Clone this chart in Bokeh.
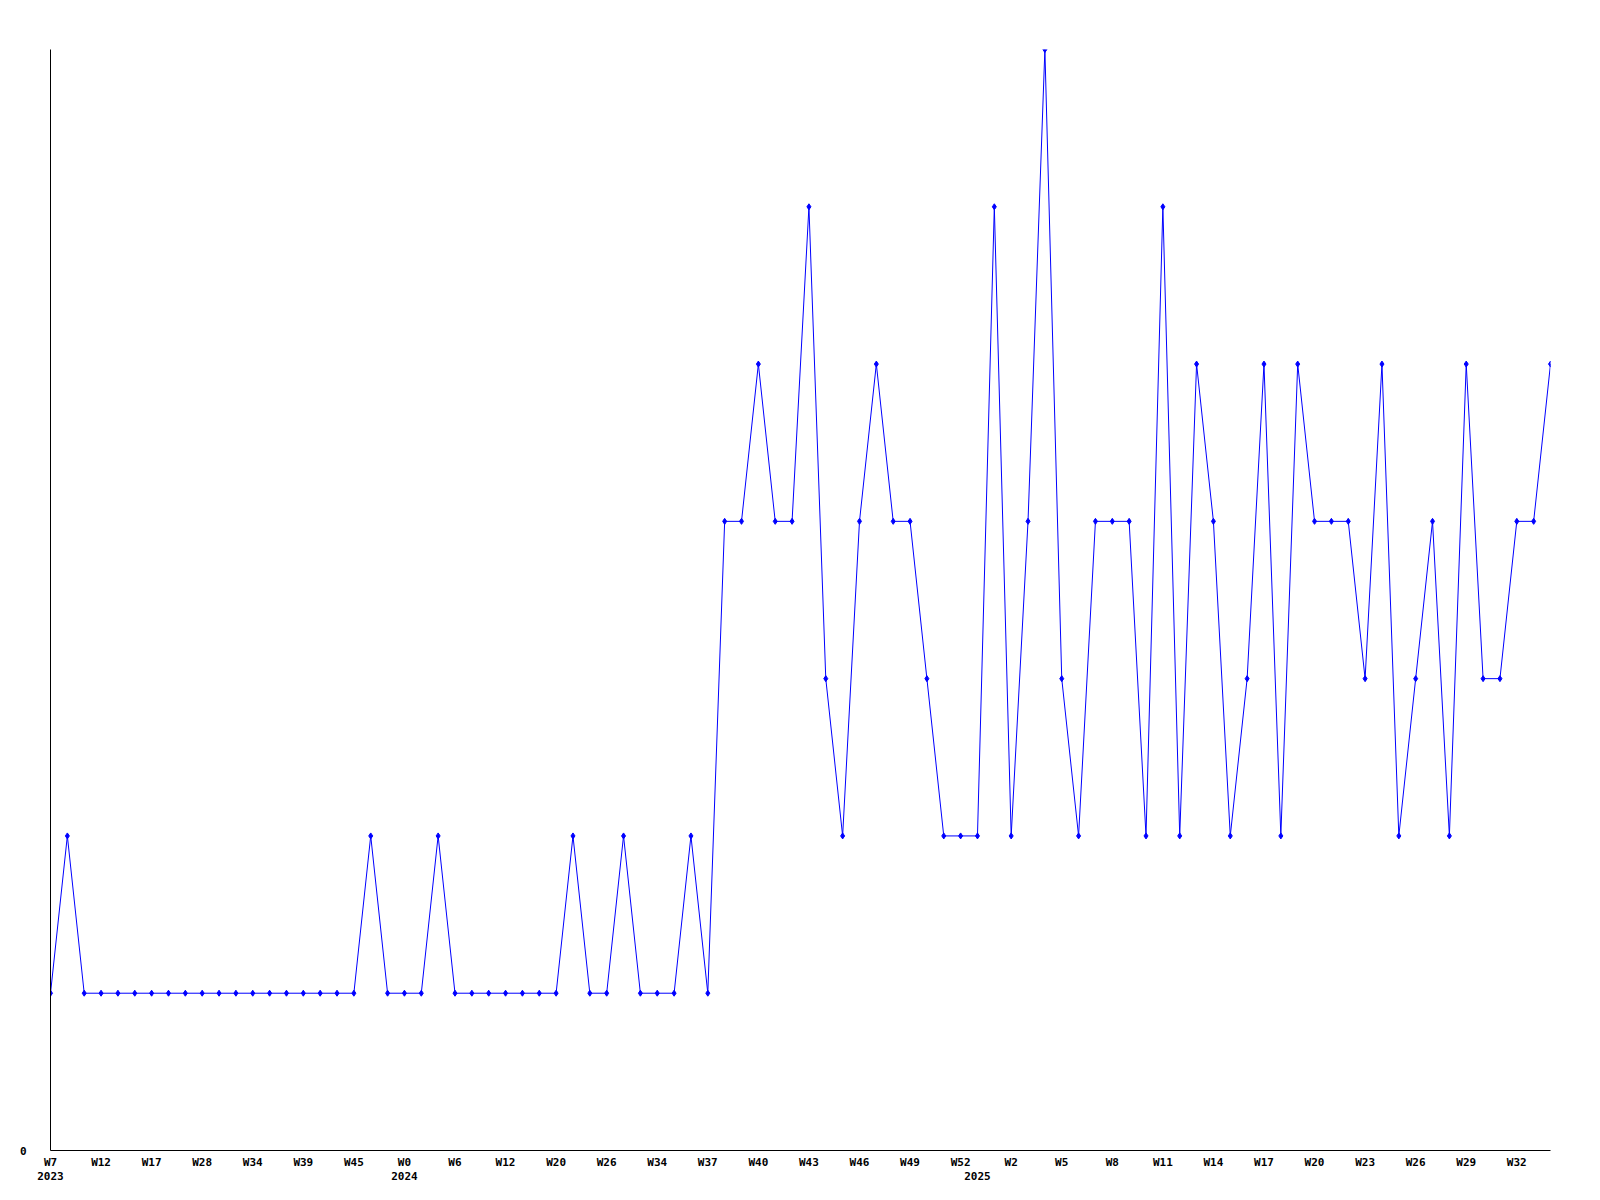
from bokeh.plotting import figure
from bokeh.models import Range1d, FixedTicker, LinearAxis, ColumnDataSource
from bokeh.embed import file_html
from bokeh.resources import INLINE

# ---- data ----
weeks_2023 = ["W7", "W9", "W10", "W12", "W14", "W15", "W17", "W21", "W25", "W28", "W30",
              "W32", "W34", "W36", "W37", "W39", "W41", "W43", "W45", "W48", "W50"]
weeks_2024 = ["W0", "W2", "W4", "W6", "W8", "W10", "W12", "W15", "W18", "W20", "W22", "W24",
              "W26", "W29", "W31", "W34", "W35", "W36", "W37", "W38", "W39", "W40", "W41",
              "W42", "W43", "W44", "W45", "W46", "W47", "W48", "W49", "W50", "W51", "W52"]
weeks_2025 = ["W%d" % w for w in [0, 1, 2, 3, 4, 5, 6, 7, 8, 9, 10, 11, 12, 13, 14, 15, 16,
                                  17, 18, 19, 20, 21, 22, 23, 24, 25, 26, 27, 28, 29, 30,
                                  31, 32, 33, 34]]

counts_2023 = [1, 2, 1, 1, 1, 1, 1, 1, 1, 1, 1, 1, 1, 1, 1, 1, 1, 1, 1, 2, 1]
counts_2024 = [1, 1, 2, 1, 1, 1, 1, 1, 1, 1, 2, 1, 1, 2, 1, 1, 1, 2, 1, 4, 4, 5, 4, 4,
               6, 3, 2, 4, 5, 4, 4, 3, 2, 2]
counts_2025 = [2, 6, 2, 4, 7, 3, 2, 4, 4, 4, 2, 6, 2, 5, 4, 2, 3, 5, 2, 5, 4, 4, 4, 3,
               5, 2, 3, 4, 2, 5, 3, 3, 4, 4, 5]

weeks = weeks_2023 + weeks_2024 + weeks_2025
years = ["2023"] * len(weeks_2023) + ["2024"] * len(weeks_2024) + ["2025"] * len(weeks_2025)
counts = counts_2023 + counts_2024 + counts_2025
idx = list(range(len(weeks)))

FONT = "DejaVu Sans Mono"
BLUE = "#0000ff"

p = figure(width=1584, height=1184, output_backend="svg", toolbar_location=None,
           x_range=Range1d(0, len(weeks) - 1), y_range=Range1d(0, 7),
           min_border_left=50, min_border_right=34, min_border_top=49, min_border_bottom=34,
           x_axis_location=None, y_axis_location=None)
p.outline_line_color = None
p.xgrid.visible = False
p.ygrid.visible = False
p.background_fill_color = "white"
p.border_fill_color = "white"

src = ColumnDataSource(dict(x=idx, y=counts, week=weeks, year=years))
p.line("x", "y", source=src, line_color=BLUE, line_width=1)
p.scatter("x", "y", source=src, marker="diamond", size=6, fill_color=BLUE, line_color=BLUE)

# y axis: only 0
yax = LinearAxis(ticker=FixedTicker(ticks=[0]))
yax.axis_line_color = "black"
yax.major_tick_line_color = None
yax.minor_tick_line_color = None
yax.major_tick_out = 0
yax.major_tick_in = 0
yax.major_label_standoff = 24
yax.major_label_text_font = FONT
yax.major_label_text_font_style = "bold"
yax.major_label_text_font_size = "11px"
yax.major_label_text_color = "black"
p.add_layout(yax, "left")

# x axis: week labels every 3rd point
wticks = idx[::3]
xax = LinearAxis(ticker=FixedTicker(ticks=wticks),
                 major_label_overrides={i: weeks[i] for i in wticks})
xax.axis_line_color = "black"
xax.major_tick_line_color = None
xax.minor_tick_line_color = None
xax.major_tick_out = 0
xax.major_tick_in = 0
xax.major_label_standoff = 5
xax.major_label_text_font = FONT
xax.major_label_text_font_style = "bold"
xax.major_label_text_font_size = "11px"
xax.major_label_text_color = "black"
p.add_layout(xax, "below")

# second x axis: year labels at first point of each year
yticks = [i for i in idx if i == 0 or years[i] != years[i - 1]]
yrax = LinearAxis(ticker=FixedTicker(ticks=yticks),
                  major_label_overrides={i: years[i] for i in yticks})
yrax.axis_line_color = None
yrax.major_tick_line_color = None
yrax.minor_tick_line_color = None
yrax.major_tick_out = 0
yrax.major_tick_in = 0
yrax.major_label_standoff = 0
yrax.major_label_text_font = FONT
yrax.major_label_text_font_style = "bold"
yrax.major_label_text_font_size = "11px"
yrax.major_label_text_color = "black"
p.add_layout(yrax, "below")

open("out.html", "w").write(file_html(p, INLINE))
